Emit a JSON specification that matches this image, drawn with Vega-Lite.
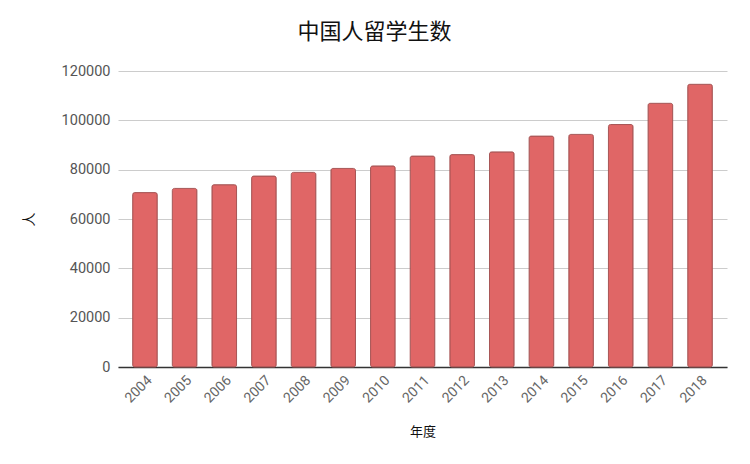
{
  "$schema": "https://vega.github.io/schema/vega-lite/v6.json",
  "autosize": {"type": "none"},
  "width": 609,
  "height": 296,
  "padding": {"left": 118, "top": 71, "right": 23, "bottom": 97},
  "background": "white",
  "title": {
    "text": "中国人留学生数",
    "font": "Noto Sans CJK SC",
    "fontSize": 22,
    "fontWeight": "normal",
    "color": "#111111",
    "anchor": "middle",
    "frame": "bounds",
    "offset": 19
  },
  "data": {
    "values": [
      {"year": "2004", "count": 70700},
      {"year": "2005", "count": 72400},
      {"year": "2006", "count": 73900},
      {"year": "2007", "count": 77400},
      {"year": "2008", "count": 78900},
      {"year": "2009", "count": 80500},
      {"year": "2010", "count": 81500},
      {"year": "2011", "count": 85500},
      {"year": "2012", "count": 86100},
      {"year": "2013", "count": 87200},
      {"year": "2014", "count": 93600},
      {"year": "2015", "count": 94300},
      {"year": "2016", "count": 98300},
      {"year": "2017", "count": 106900},
      {"year": "2018", "count": 114600}
    ]
  },
  "mark": {
    "type": "bar",
    "fill": "#e06666",
    "stroke": "#a85656",
    "strokeWidth": 1,
    "cornerRadius": 2
  },
  "encoding": {
    "x": {
      "field": "year",
      "type": "ordinal",
      "title": "年度",
      "scale": {"paddingInner": 0.38, "paddingOuter": 0.37},
      "axis": {
        "labelAngle": -45,
        "labelFont": "Roboto",
        "labelFontSize": 14,
        "labelColor": "#666666",
        "labelPadding": 6,
        "ticks": false,
        "domainColor": "#333333",
        "domainWidth": 1.5,
        "titleFont": "Noto Sans CJK SC",
        "titleFontSize": 13,
        "titleFontWeight": "normal",
        "titleColor": "#111111",
        "titlePadding": 20
      }
    },
    "y": {
      "field": "count",
      "type": "quantitative",
      "title": "人",
      "scale": {"domain": [0, 120000]},
      "axis": {
        "values": [0, 20000, 40000, 60000, 80000, 100000, 120000],
        "format": "d",
        "domain": false,
        "ticks": false,
        "labelFont": "Roboto",
        "labelFontSize": 14.5,
        "labelColor": "#555555",
        "labelPadding": 8,
        "gridColor": "#cccccc",
        "titleFont": "Noto Sans CJK SC",
        "titleFontSize": 14,
        "titleFontWeight": "normal",
        "titleColor": "#111111",
        "titlePadding": 25
      }
    }
  },
  "config": {
    "view": {"stroke": null}
  }
}
